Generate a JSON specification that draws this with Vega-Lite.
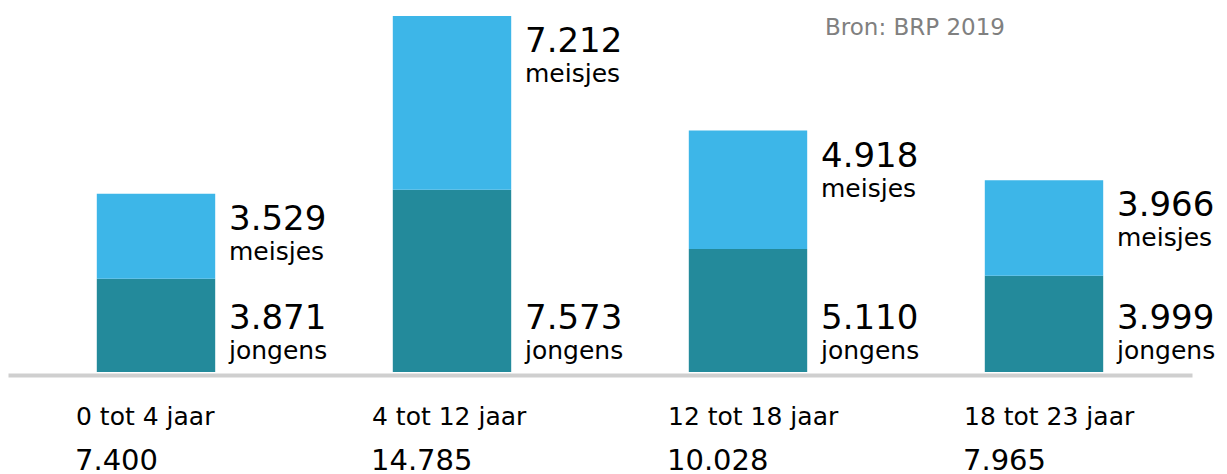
{
  "$schema": "https://vega.github.io/schema/vega-lite/v6.json",
  "width": 1184,
  "height": 356,
  "autosize": "none",
  "padding": {"left": 8, "right": 35, "top": 16, "bottom": 102},
  "background": "white",
  "config": {
    "view": {"stroke": null},
    "font": "DejaVu Sans",
    "locale": {"number": {"decimal": ",", "thousands": ".", "grouping": [3], "currency": ["€", ""]}}
  },
  "data": {
    "values": [
      {"leeftijd": "0 tot 4 jaar", "groep": "jongens", "aantal": 3871},
      {"leeftijd": "0 tot 4 jaar", "groep": "meisjes", "aantal": 3529},
      {"leeftijd": "4 tot 12 jaar", "groep": "jongens", "aantal": 7573},
      {"leeftijd": "4 tot 12 jaar", "groep": "meisjes", "aantal": 7212},
      {"leeftijd": "12 tot 18 jaar", "groep": "jongens", "aantal": 5110},
      {"leeftijd": "12 tot 18 jaar", "groep": "meisjes", "aantal": 4918},
      {"leeftijd": "18 tot 23 jaar", "groep": "jongens", "aantal": 3999},
      {"leeftijd": "18 tot 23 jaar", "groep": "meisjes", "aantal": 3966}
    ]
  },
  "transform": [
    {"joinaggregate": [{"op": "sum", "field": "aantal", "as": "totaal"}], "groupby": ["leeftijd"]}
  ],
  "encoding": {
    "x": {
      "field": "leeftijd", "type": "nominal",
      "sort": ["0 tot 4 jaar", "4 tot 12 jaar", "12 tot 18 jaar", "18 tot 23 jaar"],
      "scale": {"paddingInner": 0.6, "paddingOuter": 0.3},
      "axis": {"title": null, "labels": false, "ticks": false, "domain": true, "domainColor": "#cfcfcf", "domainWidth": 4, "offset": 3}
    }
  },
  "layer": [
    {
      "mark": {"type": "bar"},
      "encoding": {
        "y": {"field": "aantal", "type": "quantitative", "stack": "zero", "scale": {"domain": [0, 14785], "nice": false}, "axis": null},
        "color": {"field": "groep", "type": "nominal", "scale": {"domain": ["jongens", "meisjes"], "range": ["#238A9B", "#3DB6E8"]}, "legend": null},
        "order": {"field": "groep", "sort": "ascending"}
      }
    },
    {
      "transform": [{"filter": "datum.groep == 'meisjes'"}],
      "mark": {"type": "text", "align": "left", "baseline": "middle", "dx": 73, "dy": 26, "fontSize": 34, "color": "#000000"},
      "encoding": {
        "y": {"field": "totaal", "type": "quantitative"},
        "text": {"field": "aantal", "type": "quantitative", "format": ","}
      }
    },
    {
      "transform": [{"filter": "datum.groep == 'meisjes'"}],
      "mark": {"type": "text", "align": "left", "baseline": "middle", "dx": 73, "dy": 58, "fontSize": 25, "color": "#000000"},
      "encoding": {
        "y": {"field": "totaal", "type": "quantitative"},
        "text": {"field": "groep"}
      }
    },
    {
      "transform": [{"filter": "datum.groep == 'jongens'"}],
      "mark": {"type": "text", "align": "left", "baseline": "middle", "dx": 73, "dy": -53, "fontSize": 34, "color": "#000000"},
      "encoding": {
        "y": {"datum": 0},
        "text": {"field": "aantal", "type": "quantitative", "format": ","}
      }
    },
    {
      "transform": [{"filter": "datum.groep == 'jongens'"}],
      "mark": {"type": "text", "align": "left", "baseline": "middle", "dx": 73, "dy": -21, "fontSize": 25, "color": "#000000"},
      "encoding": {
        "y": {"datum": 0},
        "text": {"field": "groep"}
      }
    },
    {
      "transform": [{"filter": "datum.groep == 'jongens'"}],
      "mark": {"type": "text", "align": "left", "baseline": "middle", "dx": -80, "dy": 45, "fontSize": 25, "color": "#000000"},
      "encoding": {
        "y": {"datum": 0},
        "text": {"field": "leeftijd"}
      }
    },
    {
      "transform": [{"filter": "datum.groep == 'jongens'"}],
      "mark": {"type": "text", "align": "left", "baseline": "middle", "dx": -81, "dy": 89, "fontSize": 29, "color": "#000000"},
      "encoding": {
        "y": {"datum": 0},
        "text": {"field": "totaal", "type": "quantitative", "format": ","}
      }
    },
    {
      "transform": [{"filter": "datum.groep == 'jongens' && datum.leeftijd == '18 tot 23 jaar'"}],
      "mark": {"type": "text", "align": "left", "baseline": "middle", "dx": -219, "dy": 12, "fontSize": 23, "color": "#808080", "text": "Bron: BRP 2019"},
      "encoding": {
        "y": {"datum": 14785}
      }
    }
  ]
}
